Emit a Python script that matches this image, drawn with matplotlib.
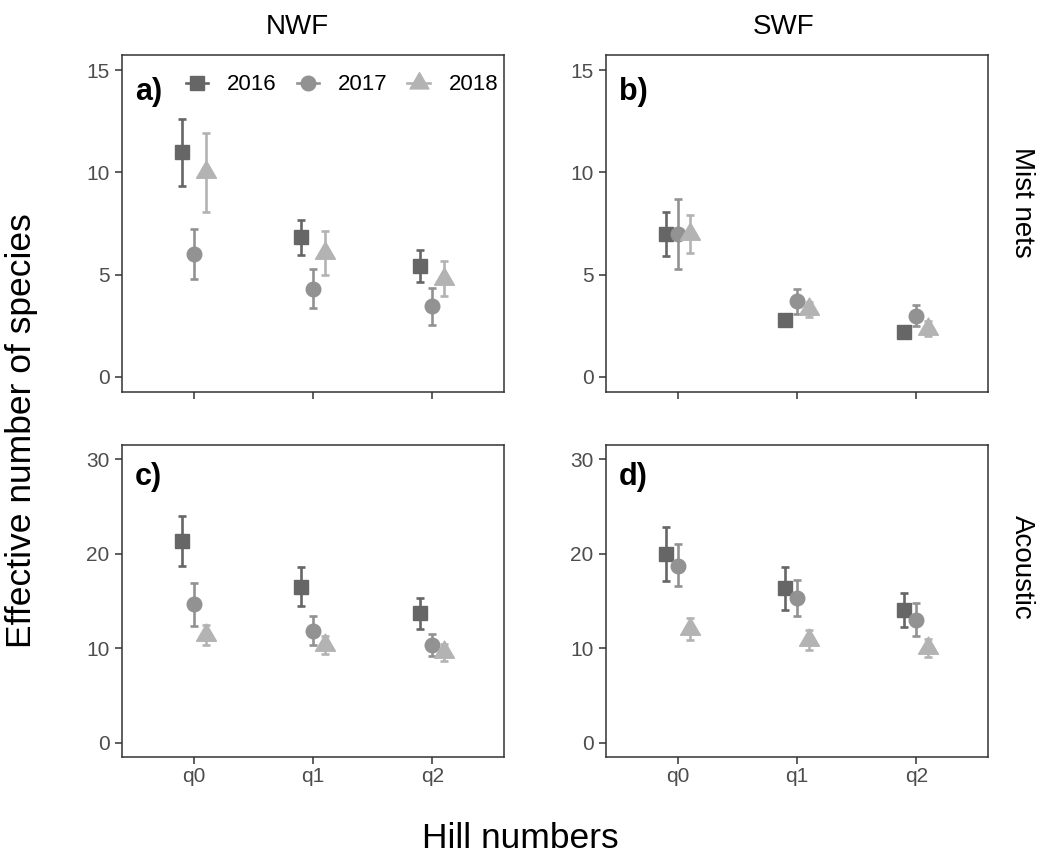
import numpy as np
import matplotlib
matplotlib.use("Agg")
import matplotlib.pyplot as plt
from matplotlib.lines import Line2D
from matplotlib.path import Path

plt.rcParams['font.family'] = ['Liberation Sans', 'DejaVu Sans']

hill = ["q0", "q1", "q2"]
years = [2016, 2017, 2018]

# mean, lower, upper per year (q0, q1, q2)
nwf_mist_mean = {2016: [11.0, 6.83, 5.41], 2017: [6.0, 4.31, 3.45], 2018: [10.0, 6.05, 4.8]}
nwf_mist_lo = {2016: [9.35, 5.98, 4.66], 2017: [4.76, 3.36, 2.54], 2018: [8.06, 4.96, 3.95]}
nwf_mist_hi = {2016: [12.64, 7.69, 6.21], 2017: [7.23, 5.28, 4.36], 2018: [11.95, 7.12, 5.67]}

swf_mist_mean = {2016: [7.0, 2.76, 2.21], 2017: [7.0, 3.69, 2.97], 2018: [7.0, 3.3, 2.35]}
swf_mist_lo = {2016: [5.93, 2.6, 2.05], 2017: [5.27, 3.06, 2.47], 2018: [6.06, 2.91, 2.0]}
swf_mist_hi = {2016: [8.06, 2.92, 2.37], 2017: [8.71, 4.31, 3.51], 2018: [7.93, 3.67, 2.73]}

nwf_ac_mean = {2016: [21.3, 16.45, 13.69], 2017: [14.68, 11.85, 10.33], 2018: [11.4, 10.35, 9.6]}
nwf_ac_lo = {2016: [18.75, 14.5, 12.06], 2017: [12.38, 10.33, 9.13], 2018: [10.33, 9.37, 8.67]}
nwf_ac_hi = {2016: [23.95, 18.57, 15.32], 2017: [16.94, 13.4, 11.5], 2018: [12.49, 11.32, 10.5]}

swf_ac_mean = {2016: [20.0, 16.34, 14.0], 2017: [18.75, 15.28, 12.98], 2018: [12.0, 10.9, 10.0]}
swf_ac_lo = {2016: [17.16, 14.08, 12.2], 2017: [16.55, 13.37, 11.25], 2018: [10.86, 9.83, 9.09]}
swf_ac_hi = {2016: [22.82, 18.57, 15.85], 2017: [21.01, 17.23, 14.75], 2018: [13.16, 11.92, 10.97]}

colors = {2016: "#666666", 2017: "#929292", 2018: "#B3B3B3"}
# R style triangle (centred on centroid)
tri = Path([(0, 1.555), (-1.347, -0.778), (1.347, -0.778), (0, 1.555)],
           [Path.MOVETO, Path.LINETO, Path.LINETO, Path.CLOSEPOLY])
markers = {2016: ("s", 10.5), 2017: ("o", 10.5), 2018: (tri, 16.5)}
offsets = {2016: -0.1, 2017: 0.0, 2018: 0.1}

W, H = 1040, 855
fig = plt.figure(figsize=(W / 100, H / 100), dpi=100)


def px_axes(l, t, r, b):
    return fig.add_axes([l / W, 1 - b / H, (r - l) / W, (b - t) / H])


panels = [
    (px_axes(122, 55, 504, 392), nwf_mist_mean, nwf_mist_lo, nwf_mist_hi, "a)", [0, 5, 10, 15], (-0.75, 15.75), False, 0.89),
    (px_axes(606, 55, 988, 392), swf_mist_mean, swf_mist_lo, swf_mist_hi, "b)", [0, 5, 10, 15], (-0.75, 15.75), False, 0.89),
    (px_axes(122, 445, 504, 757), nwf_ac_mean, nwf_ac_lo, nwf_ac_hi, "c)", [0, 10, 20, 30], (-1.5, 31.5), True, 0.897),
    (px_axes(606, 445, 988, 757), swf_ac_mean, swf_ac_lo, swf_ac_hi, "d)", [0, 10, 20, 30], (-1.5, 31.5), True, 0.897),
]

xpos = np.arange(1, len(hill) + 1)
for ax, mean, lo, hi, tag, yt, ylim, xlab, tagy in panels:
    for yr in years:
        m = np.array(mean[yr])
        yerr = [m - np.array(lo[yr]), np.array(hi[yr]) - m]
        x = xpos + offsets[yr]
        ax.errorbar(x, m, yerr=yerr, fmt="none", ecolor=colors[yr],
                    elinewidth=1.9, capsize=2.6, capthick=1.9)
        mk, ms = markers[yr]
        ax.plot(x, m, marker=mk, ms=ms, color=colors[yr], ls="none")
    ax.set_xlim(0.4, 3.6)
    ax.set_ylim(*ylim)
    ax.set_yticks(yt)
    ax.set_xticks(xpos)
    if xlab:
        ax.set_xticklabels(hill)
    else:
        ax.set_xticklabels([])
    for s in ax.spines.values():
        s.set_color("#333333")
        s.set_linewidth(1.1)
    ax.tick_params(axis="both", labelsize=15, colors="#333333", labelcolor="#4D4D4D",
                   length=5, width=1.1)
    ax.tick_params(axis="y", pad=4)
    ax.tick_params(axis="x", pad=2.5)
    ax.text(0.034, tagy, tag, transform=ax.transAxes, fontsize=22, fontweight="bold",
            ha="left", va="center")

handles = [Line2D([], [], color=colors[yr], marker=markers[yr][0], ms=markers[yr][1] * (0.95 if yr == 2018 else 1.0),
                  lw=1.9) for yr in years]
panels[0][0].legend(handles, [str(y) for y in years], ncol=3, frameon=False, fontsize=16,
                    loc="center", bbox_to_anchor=(0.576, 0.911), handlelength=1.0,
                    handletextpad=0.85, columnspacing=0.9, borderpad=0, borderaxespad=0)

fig.text(297.5 / W, 1 - 34 / H, "NWF", fontsize=20, ha="center", va="baseline")
fig.text(784 / W, 1 - 34 / H, "SWF", fontsize=20, ha="center", va="baseline")
fig.text(1022 / W, 1 - 202 / H, "Mist nets", fontsize=20, rotation=270, ha="center", va="center")
fig.text(1022 / W, 1 - 567 / H, "Acoustic", fontsize=20, rotation=270, ha="center", va="center")
fig.text(21.5 / W, 1 - 431 / H, "Effective number of species", fontsize=25.5, rotation=90,
         ha="center", va="center")
fig.text(520 / W, 1 - 848 / H, "Hill numbers", fontsize=25.5, ha="center", va="baseline")

fig.savefig("out.png", dpi=100)
